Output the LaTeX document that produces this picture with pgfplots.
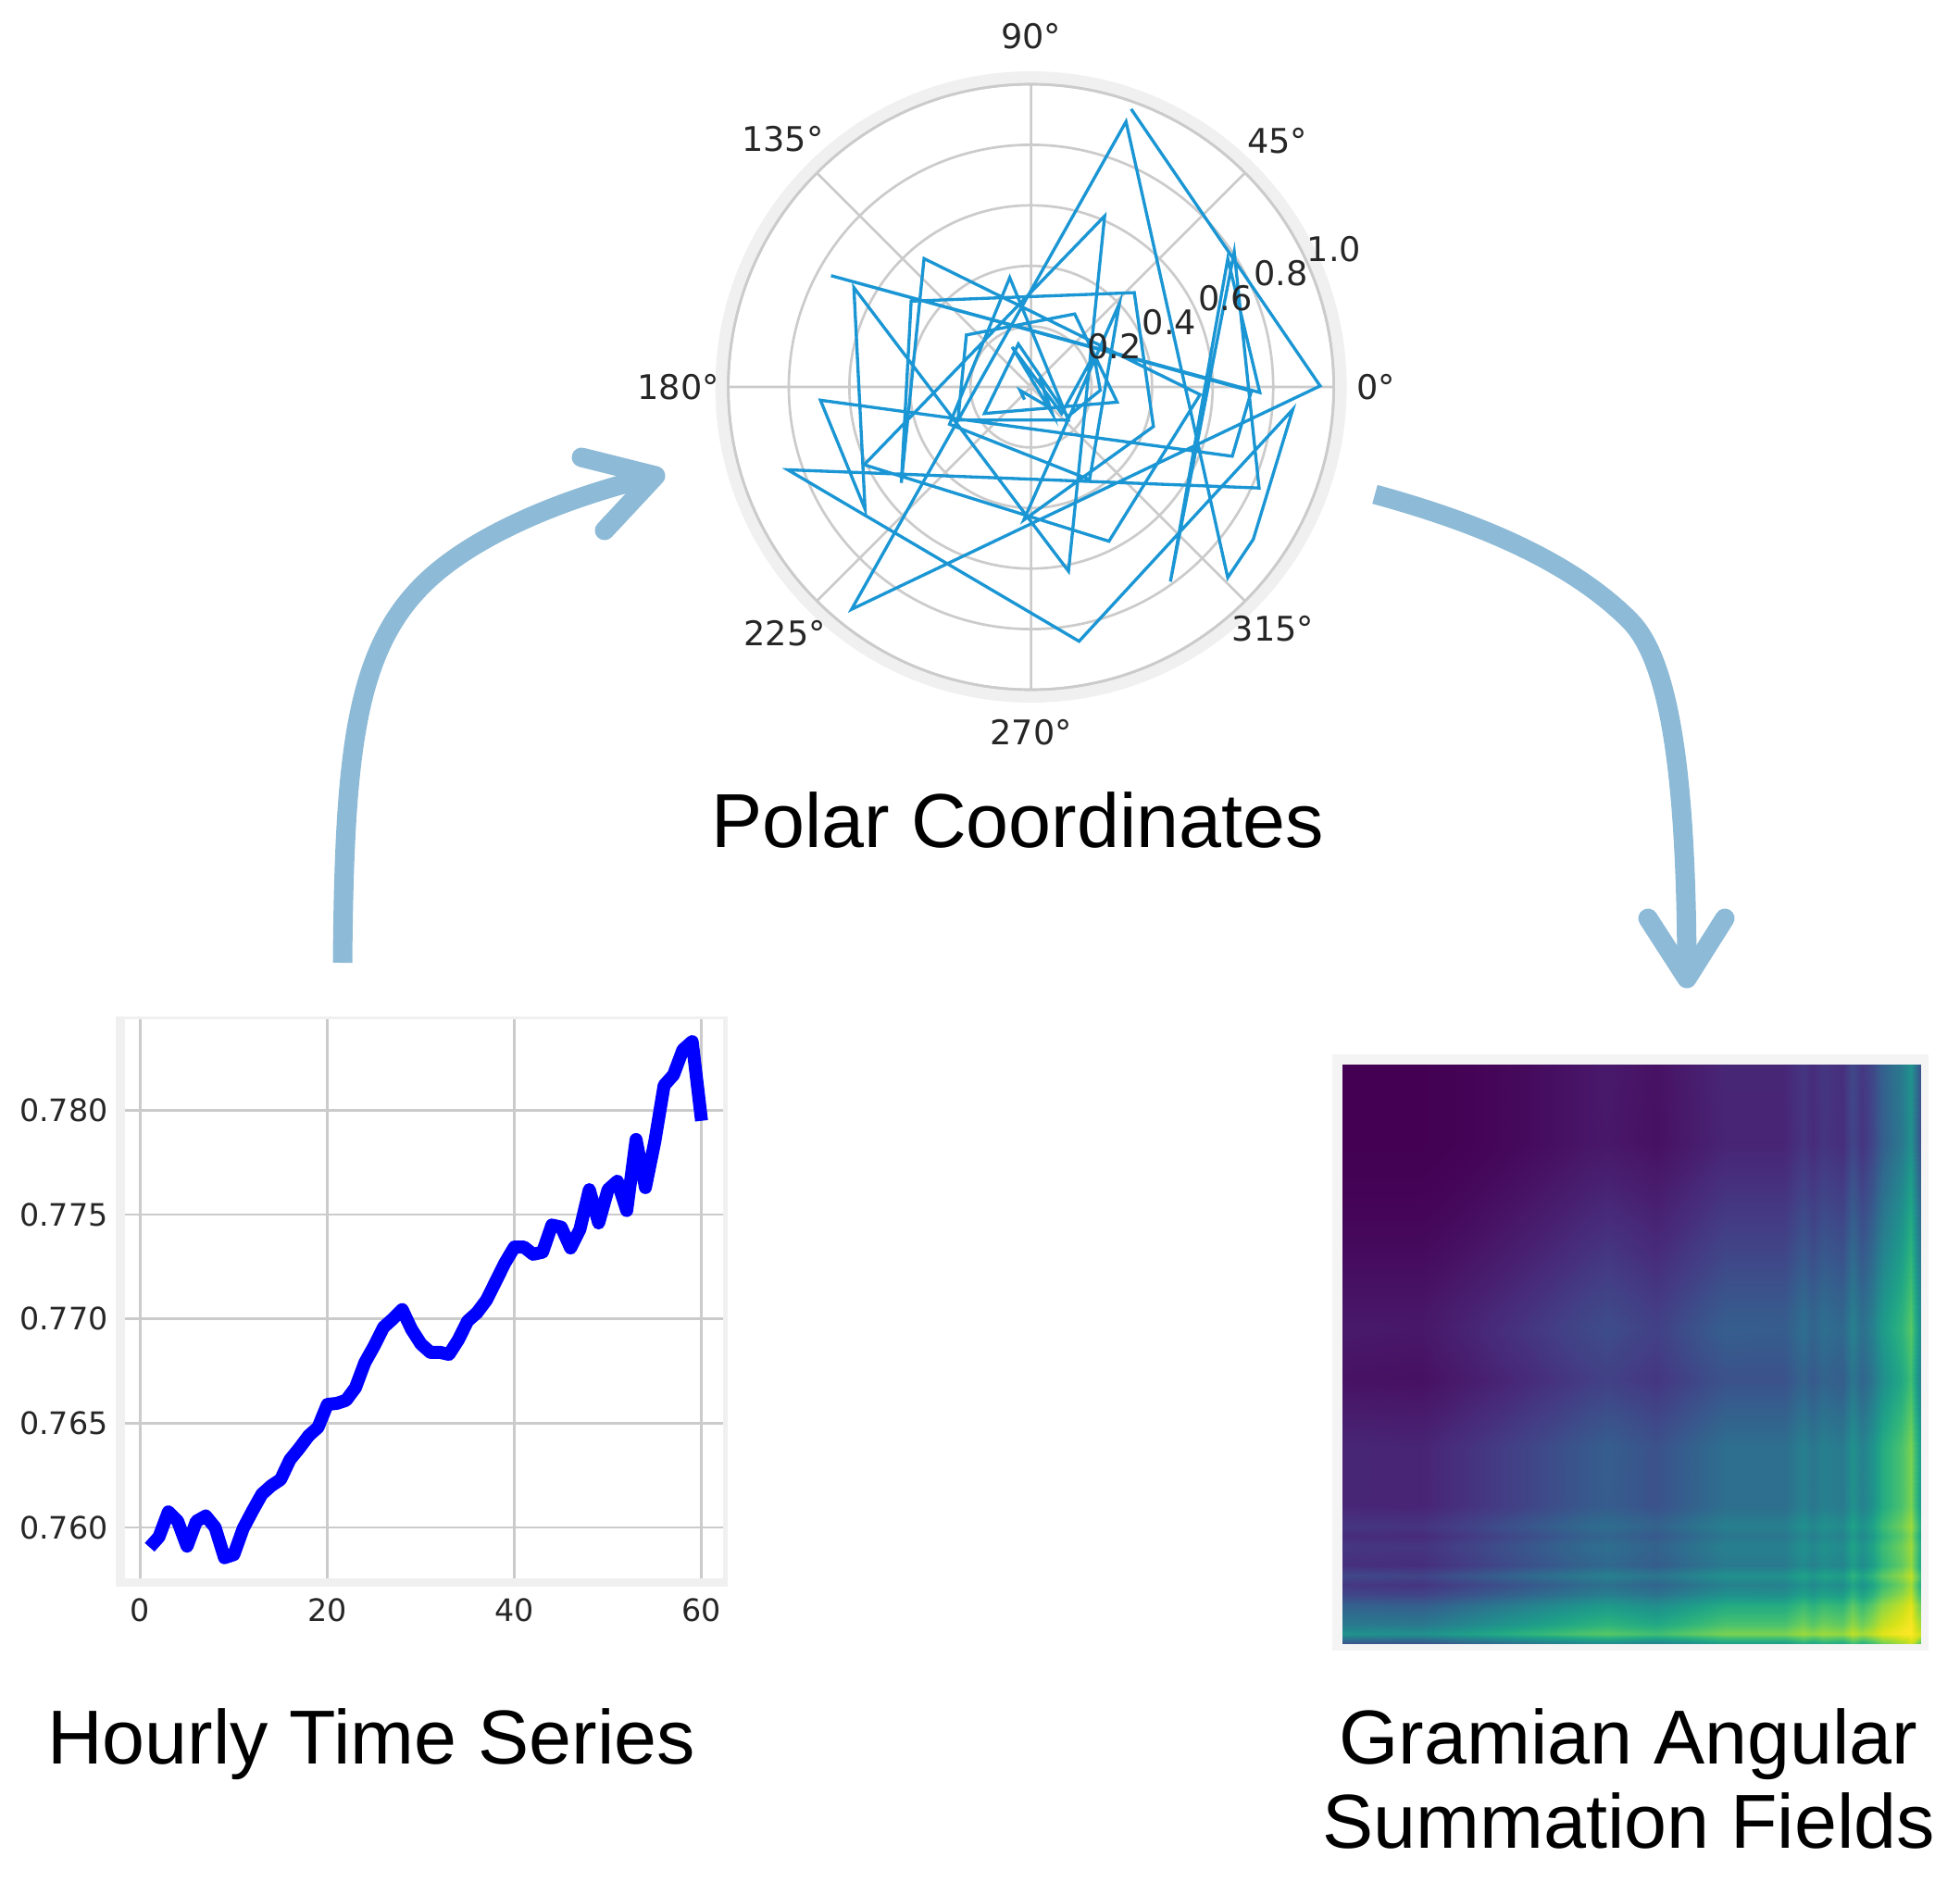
\documentclass[border=0pt]{standalone}
\usepackage{fontspec}
\setmainfont{Liberation Sans}
\newfontfamily\dv{DejaVu Sans}
\usepackage{pgfplots}
\usepgfplotslibrary{polar}
\pgfplotsset{compat=1.18}
\definecolor{gridc}{HTML}{CBCBCB}
\definecolor{framec}{HTML}{F0F0F0}
\definecolor{framed}{HTML}{F3F4F3}
\definecolor{arrowc}{HTML}{8DBAD6}
\definecolor{polarc}{HTML}{1A96D4}
\definecolor{tickc}{HTML}{262626}
\newcommand{\tickfont}{\dv\fontsize{10}{12}\selectfont}
\newcommand{\polarfont}{\dv\fontsize{11}{13}\selectfont}
\newcommand{\titlefont}{\fontsize{24.8}{30}\selectfont}
\begin{document}
\begin{tikzpicture}
\useasboundingbox (0pt,0pt) rectangle (635.1pt,-609.9pt);
% frames, arrows and titles, in reference pixels
\begin{scope}[x=0.3pt,y=-0.3pt]
  \fill[framec] (125,1098) rectangle (786,1714);
  \fill[white] (135,1101) rectangle (781,1705);
  \fill[framed] (1439,1139) rectangle (2083,1783);
  \fill[framec] (1113.6,418) circle (341);
  \fill[white] (1113.6,418) circle (327);
  \draw[arrowc,line width=6.3pt] (370,1040) .. controls (372,800) and (385,690) .. (473,617)
    .. controls (530,570) and (620,535) .. (708,514);
  \draw[arrowc,line width=6.3pt,line cap=round,line join=round] (628,494) -- (708,514) -- (653,573);
  \draw[arrowc,line width=6.3pt] (1485,534) .. controls (1580,560) and (1690,600) .. (1760,670)
    .. controls (1800,710) and (1822,820) .. (1822,1057);
  \draw[arrowc,line width=6.3pt,line cap=round,line join=round] (1780,992) -- (1822,1057) -- (1863,992);
  \node[anchor=base,inner sep=0pt,font=\titlefont] at (1099,915) {Polar Coordinates};
  \node[anchor=base,inner sep=0pt,font=\titlefont] at (401,1905) {Hourly Time Series};
  \node[anchor=base,inner sep=0pt,font=\titlefont] at (1759,1905) {Gramian Angular};
  \node[anchor=base,inner sep=0pt,font=\titlefont] at (1759,1996) {Summation Fields};
\end{scope}

% polar coordinates
\begin{polaraxis}[
  at={(334.08pt,-125.4pt)}, anchor=center,
  scale only axis, width=196.2pt, height=196.2pt,
  xmin=0, xmax=360, ymin=0, ymax=1,
  xtick={0,45,...,315}, ytick={0.2,0.4,0.6,0.8,1},
  xticklabels={}, yticklabels={},
  grid=major, major grid style={gridc,line width=0.8pt},
  axis line style={gridc,line width=0.8pt},
  tick style={draw=none}, clip=false]
  \addplot[polarc,line width=1pt,no markers] coordinates {
    (70.2,.976)(0.2,.955)(231.1,.944)(70.3,.931)(315.9,.905)(325.6,.890)(355.1,.868)(280.7,.855)
    (198.8,.849)(336.1,.824)(33.6,.806)(305.6,.791)(33.1,.776)(358.6,.756)(150.9,.756)(358.9,.728)
    (341,.703)(183.6,.697)(216.4,.681)(150.7,.671)(281.5,.621)(66.7,.615)(205,.608)(296.8,.571)
    (357.4,.559)(129.8,.552)(216.5,.533)(144.4,.487)(42.4,.462)(342.1,.425)(266.9,.440)(43.4,.402)
    (302.3,.362)(204.6,.296)(101,.368)(318.4,.165)(204.4,.265)(141.2,.274)(59.1,.281)(350,.289)
    (209.7,.177)(106.4,.148)(321.1,.156)(357.2,.229)(27,.233)(319,.134)(115.3,.146)(308.7,.112)
    (45,.042)(311.8,.090)(197,.038)(242.9,.047)};
  \node[font=\polarfont,text=tickc] at (axis cs:0,1.14) {0°};
  \node[font=\polarfont,text=tickc] at (axis cs:45,1.15) {45°};
  \node[font=\polarfont,text=tickc] at (axis cs:90,1.16) {90°};
  \node[font=\polarfont,text=tickc] at (axis cs:135,1.16) {135°};
  \node[font=\polarfont,text=tickc] at (axis cs:180,1.165) {180°};
  \node[font=\polarfont,text=tickc] at (axis cs:225,1.15) {225°};
  \node[font=\polarfont,text=tickc] at (axis cs:270,1.14) {270°};
  \node[font=\polarfont,text=tickc] at (axis cs:315,1.13) {315°};
  \node[font=\polarfont,text=tickc] at (axis cs:26,0.306) {0.2};
  \node[font=\polarfont,text=tickc] at (axis cs:25,0.504) {0.4};
  \node[font=\polarfont,text=tickc] at (axis cs:24.5,0.706) {0.6};
  \node[font=\polarfont,text=tickc] at (axis cs:24.5,0.907) {0.8};
  \node[font=\polarfont,text=tickc] at (axis cs:24.5,1.10) {1.0};
\end{polaraxis}

% hourly series
\begin{axis}[
  at={(40.5pt,-330.3pt)}, anchor=north west,
  scale only axis, width=193.8pt, height=181.2pt,
  xmin=-1.635, xmax=62.3, ymin=0.75756, ymax=0.78437,
  xtick={0,20,40,60}, ytick={0.76,0.765,0.77,0.775,0.78},
  scaled y ticks=false,
  /pgf/number format/assume math mode=true,
  y tick label style={/pgf/number format/fixed,/pgf/number format/fixed zerofill,/pgf/number format/precision=3,xshift=-2pt},
  x tick label style={yshift=-3pt},
  tick label style={font=\tickfont,text=tickc},
  grid=major, major grid style={gridc,line width=0.8pt},
  axis line style={draw=none}, tick style={draw=none}]
  \addplot[blue,line width=4.2pt,no markers,line join=round] coordinates {
    (1,.75905)(2,.75955)(3,.76075)(4,.7603)(5,.7591)(6,.7603)(7,.76055)(8,.76)(9,.75855)(10,.7587)
    (11,.75995)(12,.7608)(13,.7616)(14,.7620)(15,.7623)(16,.76325)(17,.7638)(18,.7644)(19,.7648)(20,.7659)
    (21,.76595)(22,.7661)(23,.7667)(24,.7679)(25,.7687)(26,.7696)(27,.7700)(28,.77045)(29,.7695)(30,.7688)
    (31,.7684)(32,.7684)(33,.7683)(34,.7690)(35,.7699)(36,.7703)(37,.7709)(38,.7718)(39,.7727)(40,.77345)
    (41,.77345)(42,.7731)(43,.7732)(44,.7745)(45,.7744)(46,.7734)(47,.7743)(48,.7762)(49,.7746)(50,.7762)
    (51,.7766)(52,.7752)(53,.7786)(54,.7763)(55,.7785)(56,.7812)(57,.7817)(58,.7829)(59,.7833)(60,.7795)};
\end{axis}

% gramian angular summation field
\begin{axis}[
  at={(435pt,-345pt)}, anchor=north west,
  scale only axis, width=187.5pt, height=187.8pt,
  xmin=1, xmax=60, ymin=1, ymax=60, y dir=reverse,
  view={0}{90}, hide axis,
  colormap/viridis, point meta min=-1, point meta max=1]
  \addplot3[surf,shader=interp,mesh/cols=20] table[row sep=\\] {
1 1 -1.00\\9 1 -1.00\\14 1 -.99\\20 1 -.95\\26 1 -.89\\28 1 -.87\\33 1 -.91\\40 1 -.79\\46 1 -.79\\48 1 -.69\\49 1 -.75\\50 1 -.69\\52 1 -.73\\53 1 -.57\\54 1 -.68\\55 1 -.58\\56 1 -.39\\58 1 -.18\\59 1 .02\\60 1 -.52\\
1 9 -1.00\\9 9 -1.00\\14 9 -.99\\20 9 -.95\\26 9 -.89\\28 9 -.88\\33 9 -.92\\40 9 -.80\\46 9 -.80\\48 9 -.70\\49 9 -.76\\50 9 -.70\\52 9 -.74\\53 9 -.59\\54 9 -.70\\55 9 -.59\\56 9 -.41\\58 9 -.20\\59 9 .00\\60 9 -.54\\
1 14 -.99\\9 14 -.99\\14 14 -.96\\20 14 -.90\\26 14 -.82\\28 14 -.80\\33 14 -.85\\40 14 -.71\\46 14 -.71\\48 14 -.60\\49 14 -.66\\50 14 -.60\\52 14 -.64\\53 14 -.47\\54 14 -.59\\55 14 -.48\\56 14 -.28\\58 14 -.06\\59 14 .14\\60 14 -.41\\
1 20 -.95\\9 20 -.95\\14 20 -.90\\20 20 -.82\\26 20 -.72\\28 20 -.69\\33 20 -.76\\40 20 -.59\\46 20 -.59\\48 20 -.46\\49 20 -.54\\50 20 -.46\\52 20 -.51\\53 20 -.32\\54 20 -.46\\55 20 -.33\\56 20 -.12\\58 20 .10\\59 20 .30\\60 20 -.26\\
1 26 -.89\\9 26 -.89\\14 26 -.82\\20 26 -.72\\26 26 -.60\\28 26 -.57\\33 26 -.65\\40 26 -.45\\46 26 -.45\\48 26 -.31\\49 26 -.39\\50 26 -.31\\52 26 -.37\\53 26 -.17\\54 26 -.31\\55 26 -.18\\56 26 .04\\58 26 .26\\59 26 .45\\60 26 -.11\\
1 28 -.87\\9 28 -.88\\14 28 -.80\\20 28 -.69\\26 28 -.57\\28 28 -.54\\33 28 -.62\\40 28 -.41\\46 28 -.42\\48 28 -.28\\49 28 -.36\\50 28 -.28\\52 28 -.33\\53 28 -.13\\54 28 -.27\\55 28 -.14\\56 28 .08\\58 28 .30\\59 28 .48\\60 28 -.07\\
1 33 -.91\\9 33 -.92\\14 33 -.85\\20 33 -.76\\26 33 -.65\\28 33 -.62\\33 33 -.69\\40 33 -.50\\46 33 -.50\\48 33 -.37\\49 33 -.45\\50 33 -.37\\52 33 -.42\\53 33 -.22\\54 33 -.36\\55 33 -.23\\56 33 -.02\\58 33 .20\\59 33 .39\\60 33 -.16\\
1 40 -.79\\9 40 -.80\\14 40 -.71\\20 40 -.59\\26 40 -.45\\28 40 -.41\\33 40 -.50\\40 40 -.28\\46 40 -.28\\48 40 -.14\\49 40 -.22\\50 40 -.14\\52 40 -.19\\53 40 .01\\54 40 -.13\\55 40 .01\\56 40 .22\\58 40 .43\\59 40 .60\\60 40 .08\\
1 46 -.79\\9 46 -.80\\14 46 -.71\\20 46 -.59\\26 46 -.45\\28 46 -.42\\33 46 -.50\\40 46 -.28\\46 46 -.28\\48 46 -.14\\49 46 -.22\\50 46 -.14\\52 46 -.19\\53 46 .01\\54 46 -.13\\55 46 .00\\56 46 .22\\58 46 .43\\59 46 .60\\60 46 .07\\
1 48 -.69\\9 48 -.70\\14 48 -.60\\20 48 -.46\\26 48 -.31\\28 48 -.28\\33 48 -.37\\40 48 -.14\\46 48 -.14\\48 48 .01\\49 48 -.08\\50 48 .01\\52 48 -.05\\53 48 .16\\54 48 .02\\55 48 .15\\56 48 .36\\58 48 .56\\59 48 .71\\60 48 .22\\
1 49 -.75\\9 49 -.76\\14 49 -.66\\20 49 -.54\\26 49 -.39\\28 49 -.36\\33 49 -.45\\40 49 -.22\\46 49 -.22\\48 49 -.08\\49 49 -.16\\50 49 -.08\\52 49 -.13\\53 49 .07\\54 49 -.07\\55 49 .07\\56 49 .28\\58 49 .48\\59 49 .65\\60 49 .13\\
1 50 -.69\\9 50 -.70\\14 50 -.60\\20 50 -.46\\26 50 -.31\\28 50 -.28\\33 50 -.37\\40 50 -.14\\46 50 -.14\\48 50 .01\\49 50 -.08\\50 50 .01\\52 50 -.05\\53 50 .16\\54 50 .02\\55 50 .15\\56 50 .36\\58 50 .56\\59 50 .71\\60 50 .22\\
1 52 -.73\\9 52 -.74\\14 52 -.64\\20 52 -.51\\26 52 -.37\\28 52 -.33\\33 52 -.42\\40 52 -.19\\46 52 -.19\\48 52 -.05\\49 52 -.13\\50 52 -.05\\52 52 -.10\\53 52 .10\\54 52 -.04\\55 52 .10\\56 52 .31\\58 52 .51\\59 52 .67\\60 52 .17\\
1 53 -.57\\9 53 -.59\\14 53 -.47\\20 53 -.32\\26 53 -.17\\28 53 -.13\\33 53 -.22\\40 53 .01\\46 53 .01\\48 53 .16\\49 53 .07\\50 53 .16\\52 53 .10\\53 53 .30\\54 53 .16\\55 53 .30\\56 53 .49\\58 53 .67\\59 53 .81\\60 53 .36\\
1 54 -.68\\9 54 -.70\\14 54 -.59\\20 54 -.46\\26 54 -.31\\28 54 -.27\\33 54 -.36\\40 54 -.13\\46 54 -.13\\48 54 .02\\49 54 -.07\\50 54 .02\\52 54 -.04\\53 54 .16\\54 54 .02\\55 54 .16\\56 54 .36\\58 54 .56\\59 54 .72\\60 54 .23\\
1 55 -.58\\9 55 -.59\\14 55 -.48\\20 55 -.33\\26 55 -.18\\28 55 -.14\\33 55 -.23\\40 55 .01\\46 55 .00\\48 55 .15\\49 55 .07\\50 55 .15\\52 55 .10\\53 55 .30\\54 55 .16\\55 55 .29\\56 55 .49\\58 55 .67\\59 55 .80\\60 55 .36\\
1 56 -.39\\9 56 -.41\\14 56 -.28\\20 56 -.12\\26 56 .04\\28 56 .08\\33 56 -.02\\40 56 .22\\46 56 .22\\48 56 .36\\49 56 .28\\50 56 .36\\52 56 .31\\53 56 .49\\54 56 .36\\55 56 .49\\56 56 .66\\58 56 .81\\59 56 .91\\60 56 .55\\
1 58 -.18\\9 58 -.20\\14 58 -.06\\20 58 .10\\26 58 .26\\28 58 .30\\33 58 .20\\40 58 .43\\46 58 .43\\48 58 .56\\49 58 .48\\50 58 .56\\52 58 .51\\53 58 .67\\54 58 .56\\55 58 .67\\56 58 .81\\58 58 .92\\59 58 .98\\60 58 .72\\
1 59 .02\\9 59 .00\\14 59 .14\\20 59 .30\\26 59 .45\\28 59 .48\\33 59 .39\\40 59 .60\\46 59 .60\\48 59 .71\\49 59 .65\\50 59 .71\\52 59 .67\\53 59 .81\\54 59 .72\\55 59 .80\\56 59 .91\\58 59 .98\\59 59 1.00\\60 59 .84\\
1 60 -.52\\9 60 -.54\\14 60 -.41\\20 60 -.26\\26 60 -.11\\28 60 -.07\\33 60 -.16\\40 60 .08\\46 60 .07\\48 60 .22\\49 60 .13\\50 60 .22\\52 60 .17\\53 60 .36\\54 60 .23\\55 60 .36\\56 60 .55\\58 60 .72\\59 60 .84\\60 60 .42\\
};
\end{axis}
\end{tikzpicture}
\end{document}
